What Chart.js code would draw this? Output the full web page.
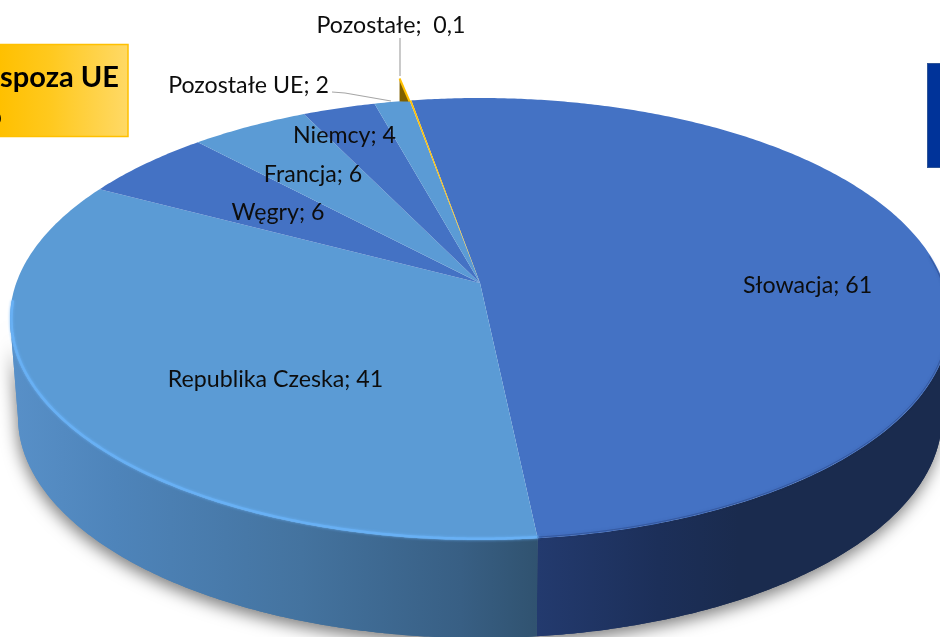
<!DOCTYPE html>
<html><head><meta charset="utf-8">
<style>html,body{margin:0;padding:0;background:#fff;overflow:hidden}#w{position:absolute;left:0;top:0;width:940px;height:637px}</style>
<script src="https://cdn.jsdelivr.net/npm/chart.js@4/dist/chart.umd.min.js"></script>
</head><body><div id="w"><canvas id="c" width="940" height="637"></canvas></div>
<script>
const categories = ['Słowacja','Republika Czeska','Węgry','Francja','Niemcy','Pozostałe UE','Pozostałe'];
const values = [61,41,6,6,4,2,0.1];
const sliceColors = ['#4472C4','#5B9BD5','#4472C4','#5B9BD5','#4472C4','#5B9BD5','#FFC000'];
const labelTexts = ['Słowacja; 61','Republika Czeska; 41','Węgry; 6','Francja; 6','Niemcy; 4','Pozostałe UE; 2','Pozostałe;  0,1'];
const labelCentres = [[807.5,286],[275.5,380],[278,213],[313,175],[344.5,136],[248.5,86],[391,26]];
const FONT='Lato, Carlito, sans-serif';
const E={q:1.8,qLow:0.371,cy:36,rx:470,ry:221,depth:98,bx:0.983};
// where the ray for a slice angle meets the rim of the tilted disc
function tp(arc,t){
  const sn=Math.sin(t),q=E.q-E.qLow*Math.max(0,sn);
  const dx=q*Math.cos(t),dy=sn,rx2=E.rx*E.rx,ry2=E.ry*E.ry;
  const A=dx*dx/rx2+dy*dy/ry2,B=-2*dy*E.cy/ry2,C=E.cy*E.cy/ry2-1;
  const s=(-B+Math.sqrt(B*B-4*A*C))/(2*A);
  return [arc.x+s*dx,arc.y+s*dy];
}
function bp(arc,t){const p=tp(arc,t);return [arc.x+(p[0]-arc.x)*E.bx,p[1]+E.depth];}
function sweep(a,b){const n=Math.max(2,Math.ceil(Math.abs(b-a)/0.01)),r=[];for(let i=0;i<=n;i++)r.push(a+(b-a)*i/n);return r;}
const deg=Math.PI/180;
const pie3d={id:'pie3d',beforeDatasetsDraw(chart){
  const c=chart.ctx,arcs=chart.getDatasetMeta(0).data,A=arcs[0];
  const split=A.endAngle;
  let R=0,L=Math.PI,mx=-1e9,mn=1e9;
  sweep(-30*deg,210*deg).forEach(t=>{const x=tp(A,t)[0];if(x>mx){mx=x;R=t;}if(x<mn){mn=x;L=t;}});
  function side(a,b,fill,shadow){
    c.save();
    if(shadow){c.shadowColor='rgba(0,0,0,.5)';c.shadowBlur=16;c.shadowOffsetX=-1;c.shadowOffsetY=6;}
    c.beginPath();
    sweep(a,b).forEach((t,i)=>{const p=tp(A,t);i?c.lineTo(p[0],p[1]):c.moveTo(p[0],p[1]);});
    sweep(b,a).forEach(t=>{const p=bp(A,t);c.lineTo(p[0],p[1]);});
    c.closePath();c.fillStyle=fill;c.fill();c.restore();
  }
  const g1=c.createLinearGradient(10,0,540,0);
  g1.addColorStop(0,'#5890C8');g1.addColorStop(.2,'#4E84BA');g1.addColorStop(.55,'#44739F');g1.addColorStop(.85,'#385F84');g1.addColorStop(1,'#30526F');
  const g2=c.createLinearGradient(538,0,940,0);
  g2.addColorStop(0,'#233A6E');g2.addColorStop(.3,'#1C2F59');g2.addColorStop(.5,'#1A2B4E');g2.addColorStop(1,'#1A2B4E');
  side(R,split,g2,true);side(split,L,g1,true);
  side(R,split,g2,false);side(split,L,g1,false);
  // top faces
  arcs.forEach(arc=>{
    c.beginPath();c.moveTo(arc.x,arc.y);
    sweep(arc.startAngle,arc.endAngle).forEach(t=>{const p=tp(arc,t);c.lineTo(p[0],p[1]);});
    c.closePath();c.fillStyle=arc.options.backgroundColor;c.fill();
  });
  // bevel rim
  function rim(a,b,col,w,bl){c.save();c.beginPath();sweep(a,b).forEach((t,i)=>{const p=tp(A,t);const x=A.x+(p[0]-A.x)*.997,y=A.y+(p[1]-A.y)*.995;i?c.lineTo(x,y):c.moveTo(x,y);});
    c.strokeStyle=col;c.lineWidth=w;c.shadowColor=col;c.shadowBlur=bl;c.lineCap='round';c.stroke();c.restore();}
  rim(split,176*deg,'#68B0F4',2.5,3);
  rim(-6*deg,split,'rgba(40,65,125,.5)',1,3);
  // tip of the smallest slice
  const last=arcs[arcs.length-1],tip=tp(last,last.startAngle);
  c.beginPath();c.moveTo(tip[0]-10,tip[1]-22);c.lineTo(tip[0]-10,tip[1]+1);c.lineTo(tip[0],tip[1]+1);c.closePath();c.fillStyle='#7F6000';c.fill();
  c.beginPath();c.moveTo(tip[0]-10,tip[1]-22);c.lineTo(tip[0],tip[1]+1);c.strokeStyle='#FFC000';c.lineWidth=2;c.stroke();
  // leader lines
  c.strokeStyle='#A6A6A6';c.lineWidth=1.2;
  c.beginPath();c.moveTo(400,38);c.lineTo(400,76);c.stroke();
  c.beginPath();c.moveTo(332,92);c.lineTo(345,93);c.lineTo(391,101);c.stroke();
  // labels
  c.fillStyle='#0D0D0D';c.font='23.2px '+FONT;c.textAlign='center';c.textBaseline='middle';
  labelTexts.forEach((s,i)=>c.fillText(s,labelCentres[i][0],labelCentres[i][1]));
  // side annotations
  const g3=c.createLinearGradient(0,0,128,0);g3.addColorStop(0,'#FFC000');g3.addColorStop(.4,'#FFC91F');g3.addColorStop(1,'#FFD966');
  c.fillStyle=g3;c.fillRect(-3,44,131,93);c.strokeStyle='#FFC000';c.lineWidth=1.5;c.strokeRect(-3,44.5,131,92);
  c.fillStyle='#000';c.font='bold 29px '+FONT;c.textAlign='right';c.textBaseline='alphabetic';c.fillText('spoza UE',119,87);
  c.fillText('o',2,126);
  c.fillStyle='#003399';c.fillRect(927,63,20,105);c.strokeStyle='#2F5597';c.lineWidth=1;c.strokeRect(927.5,63.5,20,104);
  return false;
}};
new Chart(document.getElementById('c'),{
  type:'pie',
  data:{labels:categories,datasets:[{data:values,backgroundColor:sliceColors,borderWidth:0}]},
  options:{responsive:false,animation:false,events:[],rotation:-11.8,
    layout:{padding:{left:20,right:0,top:0,bottom:71}},
    plugins:{legend:{display:false},tooltip:{enabled:false}}},
  plugins:[pie3d]
});
</script></body></html>
